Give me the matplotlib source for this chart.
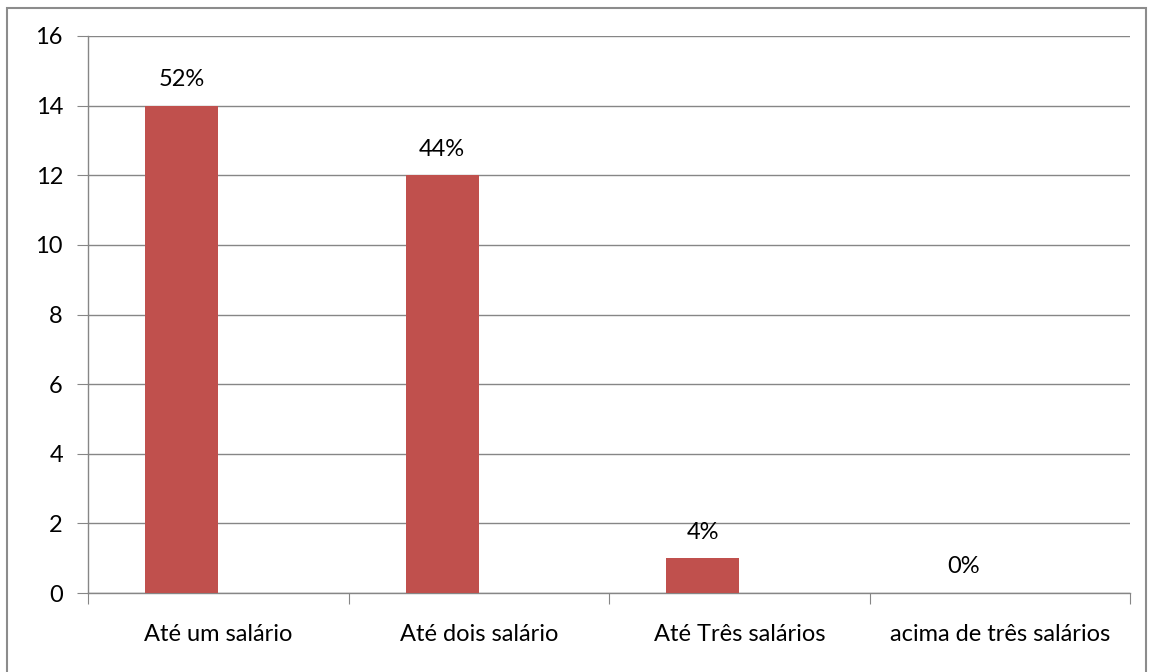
import matplotlib
matplotlib.use("Agg")
import matplotlib.pyplot as plt
from matplotlib.patches import Rectangle
import numpy as np

categories = ["Até um salário", "Até dois salário", "Até Três salários", "acima de três salários"]
counts = [14, 12, 1, 0]
percent_labels = ["52%", "44%", "4%", "0%"]
y_ticks = [0, 2, 4, 6, 8, 10, 12, 14, 16]

plt.rcParams["font.family"] = ["Lato", "DejaVu Sans"]
FS = 17

W, H = 1153, 672
fig = plt.figure(figsize=(W / 100, H / 100), dpi=100)
fig.patch.set_facecolor("white")

# outer chart frame
fig.patches.append(Rectangle((7 / W, -0.1), (1146 - 7) / W, 1 + 0.1 - 8 / H,
                             transform=fig.transFigure, fill=False,
                             edgecolor="#8c8c8c", linewidth=1.5))

ax = fig.add_axes([88 / W, 1 - 593 / H, (1130 - 88) / W, (593 - 36) / H])
ax.set_xlim(0, len(categories))
ax.set_ylim(0, 16)

bar_w = 0.28
x = np.arange(len(categories)) + 0.5 - bar_w / 2
ax.bar(x, counts, width=bar_w, color="#c0504d", zorder=3)

for xi, c, lab in zip(x, counts, percent_labels):
    ax.text(xi, c + 0.45, lab, ha="center", va="bottom", fontsize=FS, color="black")

ax.set_yticks(y_ticks)
ax.set_yticklabels([str(v) for v in y_ticks], fontsize=FS)
ax.yaxis.grid(True, color="#868686", linewidth=1, zorder=0)
ax.set_axisbelow(True)

ax.set_xticks(np.arange(len(categories) + 1))
ax.set_xticklabels([])
ax.set_xticks(np.arange(len(categories)) + 0.5, minor=True)
ax.set_xticklabels(categories, minor=True, fontsize=FS)
ax.tick_params(axis="x", which="major", length=8, color="#868686", direction="out")
ax.tick_params(axis="x", which="minor", length=0, pad=22)
ax.tick_params(axis="y", length=8, color="#868686", direction="out", pad=10)

for s in ["top", "right"]:
    ax.spines[s].set_visible(False)
for s in ["left", "bottom"]:
    ax.spines[s].set_color("#868686")
    ax.spines[s].set_linewidth(1)

fig.savefig("out.png", dpi=100)
